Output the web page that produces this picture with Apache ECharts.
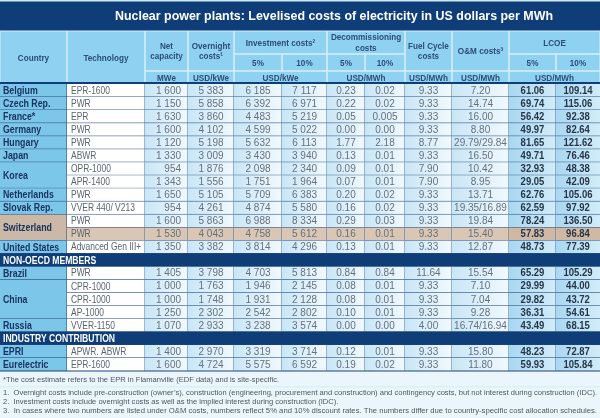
<!DOCTYPE html>
<html><head><meta charset="utf-8">
<script src="https://cdn.jsdelivr.net/npm/echarts@6/dist/echarts.min.js"></script>
<style>html,body{margin:0;padding:0;background:#fff}#c{width:600px;height:418px}</style>
</head><body><div id="c"></div>
<script>
// ---------------- DATA ----------------
const titleText = 'Nuclear power plants: Levelised costs of electricity in US dollars per MWh';
const countries = ['Belgium','Czech Rep.','France*','Germany','Hungary','Japan','Korea','Korea','Netherlands','Slovak Rep.','Switzerland','Switzerland','United States','Brazil','China','China','China','Russia','EPRI','Eurelectric'];
const groups = ['OECD','OECD','OECD','OECD','OECD','OECD','OECD','OECD','OECD','OECD','OECD','OECD','OECD','NON-OECD MEMBERS','NON-OECD MEMBERS','NON-OECD MEMBERS','NON-OECD MEMBERS','NON-OECD MEMBERS','INDUSTRY CONTRIBUTION','INDUSTRY CONTRIBUTION'];
const technologies = ['EPR-1600','PWR','EPR','PWR','PWR','ABWR','OPR-1000','APR-1400','PWR','VVER 440/ V213','PWR','PWR','Advanced Gen III+','PWR','CPR-1000','CPR-1000','AP-1000','VVER-1150','APWR. ABWR','EPR-1600'];
const netCapacity = [1600,1150,1630,1600,1120,1330,954,1343,1650,954,1600,1530,1350,1405,1000,1000,1250,1070,1400,1600];
const overnightCosts = [5383,5858,3860,4102,5198,3009,1876,1556,5105,4261,5863,4043,3382,3798,1763,1748,2302,2933,2970,4724];
const investment5 = [6185,6392,4483,4599,5632,3430,2098,1751,5709,4874,6988,4758,3814,4703,1946,1931,2542,3238,3319,5575];
const investment10 = [7117,6971,5219,5022,6113,3940,2340,1964,6383,5580,8334,5612,4296,5813,2145,2128,2802,3574,3714,6592];
const decommissioning5 = [0.23,0.22,0.05,0.00,1.77,0.13,0.09,0.07,0.20,0.16,0.29,0.16,0.13,0.84,0.08,0.08,0.10,0.00,0.12,0.19];
const decommissioning10 = [0.02,0.02,0.005,0.00,2.18,0.01,0.01,0.01,0.02,0.02,0.03,0.01,0.01,0.84,0.01,0.01,0.01,0.00,0.01,0.02];
const fuelCycle = [9.33,9.33,9.33,9.33,8.77,9.33,7.90,7.90,9.33,9.33,9.33,9.33,9.33,11.64,9.33,9.33,9.33,4.00,9.33,9.33];
const omCosts = [[7.20],[14.74],[16.00],[8.80],[29.79,29.84],[16.50],[10.42],[8.95],[13.71],[19.35,16.89],[19.84],[15.40],[12.87],[15.54],[7.10],[7.04],[9.28],[16.74,16.94],[15.80],[11.80]];
const lcoe5 = [61.06,69.74,56.42,49.97,81.65,49.71,32.93,29.05,62.76,62.59,78.24,57.83,48.73,65.29,29.99,29.82,36.31,43.49,48.23,59.93];
const lcoe10 = [109.14,115.06,92.38,82.64,121.62,76.46,48.38,42.09,105.06,97.92,136.50,96.84,77.39,105.29,44.00,43.72,54.61,68.15,72.87,105.84];
const highlightedPlants = [11];
const headerLabels = ['Country','Technology','Net\ncapacity','Overnight\ncosts\u00b9','Investment costs\u00b2','Decommissioning\ncosts','Fuel Cycle\ncosts','O&M costs\u00b3','LCOE'];
const rateLabels = ['5%','10%'];
const unitLabels = ['MWe','USD/kWe','USD/kWe','USD/MWh','USD/MWh','USD/MWh','USD/MWh'];
const footnotes = [
  '*The cost estimate refers to the EPR in Flamanville (EDF data) and is site-specific.',
  '1.  Overnight costs include pre-construction (owner\u2019s), construction (engineering, procurement and construction) and contingency costs, but not interest during construction (IDC).',
  '2.  Investment costs include overnight costs as well as the implied interest during construction (IDC).',
  '3.  In cases where two numbers are listed under O&M costs, numbers reflect 5% and 10% discount rates. The numbers differ due to country-specific cost allocation schedules.'
];

// ---------------- LAYOUT / STYLE ----------------
const colEdges = [0, 67, 145, 188, 234, 282, 327, 365, 405, 452, 509, 556, 600];
const headerEdges = [31, 54, 71, 84];
const tableBottom = 371;
const REG = "'Liberation Sans',Arial,sans-serif";
const C = {
  navy: '#0f3d78', header: '#8fd1f1', headerLine: '#d6f0fc', country: '#7cc6ea',
  lineH: '#1d4577', lineV: '#3f6c9a', hiFill: '#d9c6b4', hiLcoe: '#cfb9a5', hiCountry: '#cbb8a6',
  headText: '#2c4d76', countryText: '#1a3460', numText: '#66717c', techText: '#5a646f', lcoeText: '#263648',
  foot: '#ebf6fc', footText: '#4b5660'
};
// per-kind text look: [font, horizontal squeeze]
const TEXT = {
  section: ['bold 10.5px ' + REG, 0.82],
  country: ['bold 11px ' + REG, 0.8],
  tech: ['10.3px ' + REG, 0.82],
  num: ['10px ' + REG, 1.0],
  lcoe: ['bold 10px ' + REG, 0.95],
  header: ['bold 9.6px ' + REG, 0.85]
};

function measure(text, font) {
  const ctx = document.createElement('canvas').getContext('2d');
  ctx.font = font;
  return ctx.measureText(text).width;
}
function fmtInt(v) {
  if (v < 1000) return String(v);
  const r = String(v % 1000).padStart(3, '0');
  return Math.floor(v / 1000) + ' ' + r;
}
function fmtDec(v) {
  let s = v.toFixed(2);
  if (Math.abs(parseFloat(s) - v) > 1e-9) s = String(v);
  return s;
}
function squeezedText(text, x, y, look, fill, align) {
  return {
    type: 'text', x: x, y: y, scaleX: look[1], scaleY: 1,
    style: { text: text, x: 0, y: 0, font: look[0], fill: fill, align: align, verticalAlign: 'middle', lineHeight: 10.5 }
  };
}

// ---------------- BUILD ROWS / CELLS ----------------
const rows = [];
groups.forEach((g, i) => {
  if (i > 0 && g !== groups[i - 1]) rows.push({ type: 'section', label: g });
  rows.push({ type: 'plant', i: i });
});
const cells = [];
rows.forEach((row, r) => {
  if (row.type === 'section') {
    cells.push({ c0: 0, c1: 12, r0: r, r1: r + 1, text: row.label, kind: 'section' });
    return;
  }
  const i = row.i;
  const hi = highlightedPlants.indexOf(i) >= 0;
  const prev = rows[r - 1];
  if (!(prev && prev.type === 'plant' && countries[prev.i] === countries[i])) {
    let r1 = r + 1, anyHi = hi;
    while (rows[r1] && rows[r1].type === 'plant' && countries[rows[r1].i] === countries[i]) {
      if (highlightedPlants.indexOf(rows[r1].i) >= 0) anyHi = true;
      r1++;
    }
    cells.push({ c0: 0, c1: 1, r0: r, r1: r1, text: countries[i], kind: 'country', hi: anyHi });
  }
  const vals = [technologies[i], fmtInt(netCapacity[i]), fmtInt(overnightCosts[i]), fmtInt(investment5[i]), fmtInt(investment10[i]),
    fmtDec(decommissioning5[i]), fmtDec(decommissioning10[i]), fmtDec(fuelCycle[i]), omCosts[i].map(fmtDec).join('/'),
    fmtDec(lcoe5[i]), fmtDec(lcoe10[i])];
  vals.forEach((t, k) => {
    const c = k + 1;
    const kind = c === 1 ? 'tech' : (c >= 10 ? 'lcoe' : 'num');
    cells.push({ c0: c, c1: c + 1, r0: r, r1: r + 1, text: t, kind: kind, hi: hi, align: c === 2 ? 'right' : (c === 1 ? 'left' : 'center') });
  });
});

function grad(a, b) { return new echarts.graphic.LinearGradient(0, 0, 1, 0, [{ offset: 0, color: a }, { offset: 1, color: b }]); }

function renderItem(params, api) {
  const cell = cells[params.dataIndex];
  const p0 = api.coord([api.value(0), api.value(2)]);
  const p1 = api.coord([api.value(1), api.value(3)]);
  const x = p0[0], y = p0[1], w = p1[0] - p0[0], h = p1[1] - p0[1];
  let fill, color, align = cell.align || 'left', tx;
  if (cell.kind === 'section') { fill = C.navy; color = '#ffffff'; }
  else if (cell.kind === 'country') { fill = cell.hi ? C.hiCountry : C.country; color = C.countryText; }
  else if (cell.kind === 'tech') { fill = cell.hi ? C.hiFill : '#ffffff'; color = C.techText; }
  else if (cell.kind === 'lcoe') { fill = cell.hi ? C.hiLcoe : grad('#a9d7f1', '#d2ecf9'); color = C.lcoeText; }
  else { fill = cell.hi ? C.hiFill : grad('#c9e6f6', '#f1f9fe'); color = C.numText; }
  if (align === 'left') tx = x + (cell.kind === 'tech' ? 4 : 3);
  else if (align === 'right') tx = x + w - 7;
  else tx = x + w / 2;
  const children = [
    { type: 'rect', shape: { x: x, y: y, width: w, height: h }, style: { fill: fill } },
    { type: 'line', shape: { x1: x, y1: y + h, x2: x + w, y2: y + h }, style: { stroke: C.lineH, lineWidth: 1 } }
  ];
  if (cell.kind !== 'section' && cell.c1 < 12) {
    children.push({ type: 'line', shape: { x1: x + w, y1: y, x2: x + w, y2: y + h }, style: { stroke: cell.c0 === 0 ? C.lineH : C.lineV, lineWidth: 1 } });
  }
  children.push(squeezedText(cell.text, tx, y + h / 2 + 0.5, TEXT[cell.kind], color, align));
  return { type: 'group', children: children };
}

// ---------------- HEADER / TITLE / FOOTNOTES (graphic) ----------------
const graphics = [];
graphics.push({ type: 'rect', shape: { x: 0, y: 0, width: 600, height: headerEdges[0] }, style: { fill: C.navy } });
graphics.push({ type: 'rect', shape: { x: 0, y: 0, width: 600, height: 1.5 }, style: { fill: '#cfe9f7' } });
const titleFont = 'bold 13.5px ' + REG;
const titleScale = 438 / measure(titleText, titleFont);
graphics.push({ type: 'text', x: 334, y: 16.5, scaleX: titleScale, style: { text: titleText, x: 0, y: 0, font: titleFont, fill: '#ffffff', align: 'center', verticalAlign: 'middle' } });
graphics.push({ type: 'rect', shape: { x: 0, y: headerEdges[0], width: 600, height: headerEdges[3] - headerEdges[0] }, style: { fill: C.header } });
const hdr = [
  [0, 1, 0, 3, headerLabels[0]], [1, 2, 0, 3, headerLabels[1]],
  [2, 3, 0, 2, headerLabels[2]], [3, 4, 0, 2, headerLabels[3]],
  [4, 6, 0, 1, headerLabels[4]], [6, 8, 0, 1, headerLabels[5]],
  [8, 9, 0, 2, headerLabels[6]], [9, 10, 0, 2, headerLabels[7]], [10, 12, 0, 1, headerLabels[8]],
  [4, 5, 1, 2, rateLabels[0]], [5, 6, 1, 2, rateLabels[1]],
  [6, 7, 1, 2, rateLabels[0]], [7, 8, 1, 2, rateLabels[1]],
  [10, 11, 1, 2, rateLabels[0]], [11, 12, 1, 2, rateLabels[1]],
  [2, 3, 2, 3, unitLabels[0]], [3, 4, 2, 3, unitLabels[1]], [4, 6, 2, 3, unitLabels[2]],
  [6, 8, 2, 3, unitLabels[3]], [8, 9, 2, 3, unitLabels[4]], [9, 10, 2, 3, unitLabels[5]], [10, 12, 2, 3, unitLabels[6]]
];
hdr.forEach(h => {
  const x0 = colEdges[h[0]], x1 = colEdges[h[1]], y0 = headerEdges[h[2]], y1 = headerEdges[h[3]];
  graphics.push({ type: 'rect', shape: { x: x0, y: y0, width: x1 - x0, height: y1 - y0 }, style: { fill: 'transparent', stroke: C.headerLine, lineWidth: 1 } });
  graphics.push(squeezedText(h[4], (x0 + x1) / 2, (y0 + y1) / 2 + 0.5, TEXT.header, C.headText, 'center'));
});
graphics.push({ type: 'rect', shape: { x: 0, y: headerEdges[3] - 2, width: 600, height: 2 }, style: { fill: C.navy } });
graphics.push({ type: 'rect', shape: { x: 0, y: tableBottom, width: 600, height: 418 - tableBottom }, style: { fill: C.foot } });
const footFont = '7.3px ' + REG;
const fullScales = [footnotes[1], footnotes[3]].map(t => 594 / measure(t, footFont));
const baseScale = Math.min(fullScales[0], fullScales[1]);
const footScales = [baseScale, fullScales[0], baseScale, fullScales[1]];
const footY = [380, 392.5, 401.5, 410.5];
footnotes.forEach((t, k) => {
  graphics.push({ type: 'text', x: 3, y: footY[k], scaleX: footScales[k], style: { text: t, x: 0, y: 0, font: footFont, fill: C.footText, align: 'left', verticalAlign: 'middle' } });
});
graphics.push({ type: 'rect', shape: { x: 0, y: 386.5, width: 600, height: 0.8 }, style: { fill: '#cde5f2' } });

// ---------------- CHART ----------------
const chart = echarts.init(document.getElementById('c'), null, { renderer: 'canvas' });
chart.setOption({
  animation: false,
  backgroundColor: '#ffffff',
  grid: { left: 0, right: 0, top: headerEdges[3], bottom: 418 - tableBottom },
  xAxis: { type: 'value', min: colEdges[0], max: colEdges[colEdges.length - 1], show: false, splitLine: { show: false } },
  yAxis: { type: 'value', min: 0, max: rows.length, inverse: true, show: false, splitLine: { show: false } },
  graphic: graphics,
  series: [{
    type: 'custom',
    renderItem: renderItem,
    encode: { x: [0, 1], y: [2, 3] },
    data: cells.map(c => [colEdges[c.c0], colEdges[c.c1], c.r0, c.r1]),
    z: 2
  }]
});
</script></body></html>
